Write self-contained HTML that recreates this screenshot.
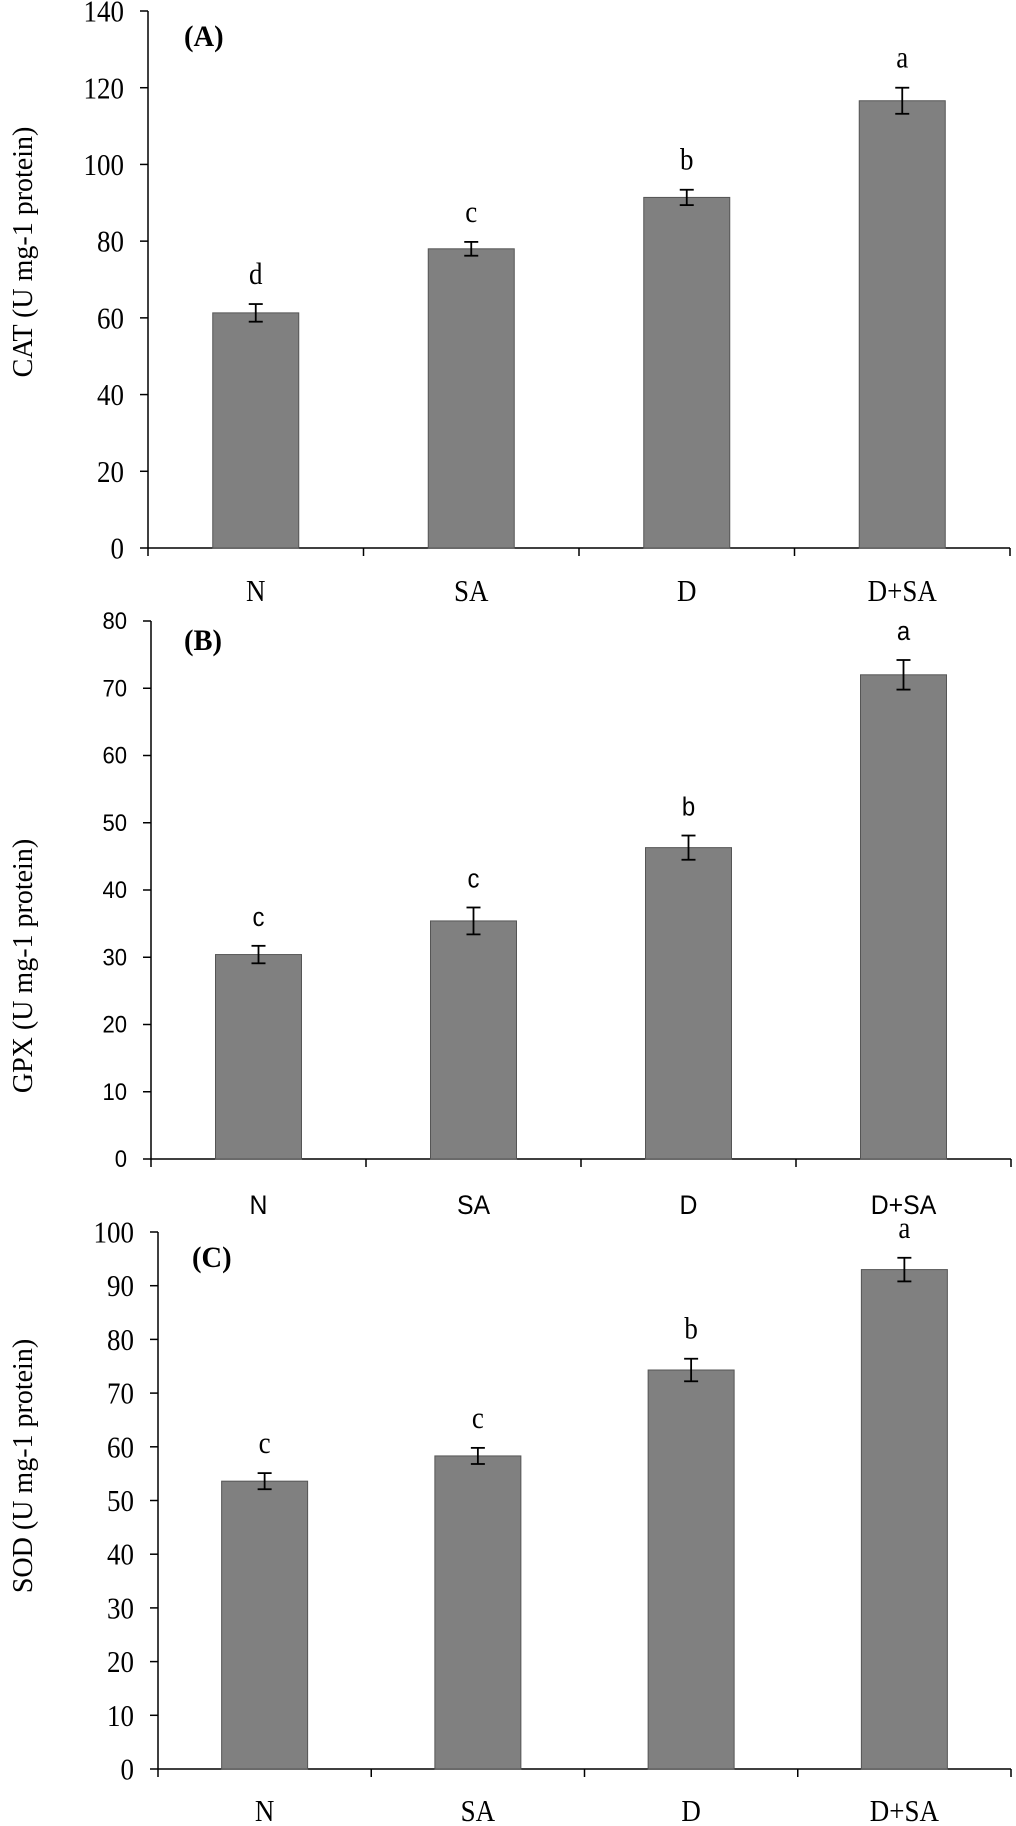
<!DOCTYPE html>
<html><head><meta charset="utf-8"><style>
html,body{margin:0;padding:0;background:#fff;}
svg{display:block;}
</style></head><body>
<svg id="chart" width="1016" height="1826" viewBox="0 0 1016 1826" xmlns="http://www.w3.org/2000/svg"></svg>
<script>
const categories = ["N", "SA", "D", "D+SA"];
const catValues = [61.3, 78.0, 91.4, 116.6];
const catErrors = [2.3, 1.8, 2.0, 3.4];
const catLetters = ["d", "c", "b", "a"];
const catTicks = [0, 20, 40, 60, 80, 100, 120, 140];
const gpxValues = [30.4, 35.4, 46.3, 72.0];
const gpxErrors = [1.3, 2.0, 1.8, 2.2];
const gpxLetters = ["c", "c", "b", "a"];
const gpxTicks = [0, 10, 20, 30, 40, 50, 60, 70, 80];
const sodValues = [53.6, 58.3, 74.3, 93.0];
const sodErrors = [1.5, 1.5, 2.1, 2.2];
const sodLetters = ["c", "c", "b", "a"];
const sodTicks = [0, 10, 20, 30, 40, 50, 60, 70, 80, 90, 100];

const NS = "http://www.w3.org/2000/svg";
const svg = document.getElementById("chart");
function mk(tag, attrs, parent) {
  const e = document.createElementNS(NS, tag);
  for (const k in attrs) e.setAttribute(k, attrs[k]);
  parent.appendChild(e);
  return e;
}
function txt(parent, x, y, s, anchor, font, fs, sx, extra) {
  const a = {x:0, y:0, "text-anchor":anchor, "font-family":font, "font-size":fs, fill:"#000",
    transform:`translate(${x},${y}) scale(${sx},1)`};
  for (const k in (extra||{})) a[k] = extra[k];
  const t = mk("text", a, parent);
  t.textContent = s;
  return t;
}
const SERIF = '"Liberation Serif", serif';
const SANS = '"Liberation Sans", sans-serif';

const panels = [
  {id:"a", label:"(A)", title:"CAT (U mg-1 protein)", values:catValues, errors:catErrors, letters:catLetters, ticks:catTicks,
   x0:148, x1:1010, yTop:11, yZero:548, catY:601, labX:184, labY:46, titleY:252, font:SERIF, fs:31, lfs:31, cfs:31, sx:0.87},
  {id:"b", label:"(B)", title:"GPX (U mg-1 protein)", values:gpxValues, errors:gpxErrors, letters:gpxLetters, ticks:gpxTicks,
   x0:151, x1:1011, yTop:621, yZero:1159, catY:1214, labX:184, labY:650, titleY:966, font:SANS, fs:24, lfs:26, cfs:27, sx:0.92},
  {id:"c", label:"(C)", title:"SOD (U mg-1 protein)", values:sodValues, errors:sodErrors, letters:sodLetters, ticks:sodTicks,
   x0:158, x1:1011, yTop:1232, yZero:1769, catY:1821, labX:192, labY:1267, titleY:1466, font:SERIF, fs:31, lfs:31, cfs:31, sx:0.87}
];

panels.forEach(p => {
  const g = mk("g", {}, svg);
  
  
  const maxT = p.ticks[p.ticks.length - 1];
  const y = v => p.yZero - (v / maxT) * (p.yZero - p.yTop);
  const bw = (p.x1 - p.x0) / categories.length;
  const xc = i => p.x0 + bw * (i + 0.5);

  const ya = mk("line", {x1:p.x0, y1:p.yTop, x2:p.x0, y2:p.yZero, stroke:"#000", "stroke-width":1.5}, g);
  
  
  p.ticks.forEach(t => {
    mk("line", {x1:p.x0 - 8, y1:y(t), x2:p.x0, y2:y(t), stroke:"#000", "stroke-width":1.5}, g);
    const tl = txt(g, p.x0 - 24, y(t) + p.fs*0.34, t, "end", p.font, p.fs, p.sx);
    
    
  });
  const xa = mk("line", {x1:p.x0, y1:p.yZero, x2:p.x1, y2:p.yZero, stroke:"#000", "stroke-width":1.5}, g);
  
  
  for (let i = 0; i <= categories.length; i++) {
    const tx = p.x0 + bw * i;
    mk("line", {x1:tx, y1:p.yZero, x2:tx, y2:p.yZero + 8, stroke:"#000", "stroke-width":1.5}, g);
  }
  categories.forEach((c, i) => {
    const cl = txt(g, xc(i), p.catY, c, "middle", p.font, p.cfs, p.sx);
    
    

    const v = p.values[i], e = p.errors[i];
    const bar = mk("rect", {x:xc(i) - 43, y:y(v), width:86, height:p.yZero - y(v), fill:"#808080", stroke:"#555", "stroke-width":1}, g);
    
    

    const eg = mk("g", {stroke:"#000", "stroke-width":1.8}, g);
    
    
    mk("line", {x1:xc(i), y1:y(v + e), x2:xc(i), y2:y(v - e)}, eg);
    mk("line", {x1:xc(i) - 7, y1:y(v + e), x2:xc(i) + 7, y2:y(v + e)}, eg);
    mk("line", {x1:xc(i) - 7, y1:y(v - e), x2:xc(i) + 7, y2:y(v - e)}, eg);

    const lt = txt(g, xc(i), y(v + e) - 20, p.letters[i], "middle", p.font, p.lfs, p.sx);
    
    
  });
  const pl = txt(g, p.labX, p.labY, p.label, "start", SERIF, 30, 0.95, {"font-weight":"bold"});
  
  
  const yt = mk("text", {x:0, y:0, "text-anchor":"middle", "font-family":SERIF, "font-size":28, fill:"#000",
    transform:`translate(32,${p.titleY}) rotate(-90)`}, g);
  
  
  yt.textContent = p.title;
});
</script>
</body></html>
